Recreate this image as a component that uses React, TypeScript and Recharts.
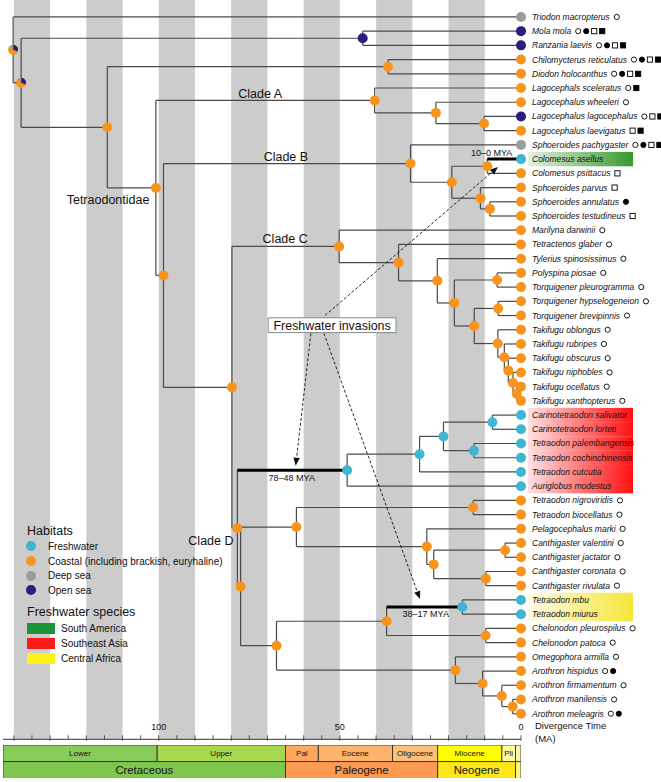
import React from 'react';
import {
  ComposedChart,
  Scatter,
  XAxis,
  YAxis,
  ReferenceArea,
  ReferenceLine,
  ReferenceDot,
  Legend,
  BarChart,
  Bar,
} from 'recharts';

const FONT = '"Liberation Sans", Arial, sans-serif';

// tips, top to bottom
const tipNames = [
  'Triodon macropterus', 'Mola mola', 'Ranzania laevis', 'Chilomycterus reticulatus', 'Diodon holocanthus',
  'Lagocephals sceleratus', 'Lagocephalus wheeleri', 'Lagocephalus lagocephalus', 'Lagocephalus laevigatus',
  'Sphoeroides pachygaster', 'Colomesus asellus', 'Colomesus psittacus', 'Sphoeroides parvus',
  'Sphoeroides annulatus', 'Sphoeroides testudineus', 'Marilyna darwinii', 'Tetractenos glaber',
  'Tylerius spinosissimus', 'Polyspina piosae', 'Torquigener pleurogramma', 'Torquigener hypselogeneion',
  'Torquigener brevipinnis', 'Takifugu oblongus', 'Takifugu rubripes', 'Takifugu obscurus',
  'Takifugu niphobles', 'Takifugu ocellatus', 'Takifugu xanthopterus', 'Carinotetraodon salivator',
  'Carinotetraodon lorteti', 'Tetraodon palembangensis', 'Tetraodon cochinchinensis', 'Tetraodon cutcutia',
  'Auriglobus modestus', 'Tetraodon nigroviridis', 'Tetraodon biocellatus', 'Pelagocephalus marki',
  'Canthigaster valentini', 'Canthigaster jactator', 'Canthigaster coronata', 'Canthigaster rivulata',
  'Tetraodon mbu', 'Tetraodon miurus', 'Chelonodon pleurospilus', 'Chelonodon patoca',
  'Omegophora armilla', 'Arothron hispidus', 'Arothron firmamentum', 'Arothron manilensis', 'Arothron meleagris',
];

// D deep sea, O open sea, C coastal, F freshwater
const tipHabitats = [
  'D', 'O', 'O', 'C', 'C', 'C', 'C', 'O', 'C', 'D',
  'F', 'C', 'C', 'C', 'C', 'C', 'C', 'C', 'C', 'C',
  'C', 'C', 'C', 'C', 'C', 'C', 'C', 'C', 'F', 'F',
  'F', 'F', 'F', 'F', 'C', 'C', 'C', 'C', 'C', 'C',
  'C', 'F', 'F', 'C', 'C', 'C', 'C', 'C', 'C', 'C',
];

// o open circle, c filled circle, s open square, S filled square
const tipMarks = [
  'o', 'ocsS', 'ocsS', 'ocsS', 'ocsS', 'oS', 'o', 'osS', 'sS', 'ocsS',
  '', 's', 's', 'c', 's', 'o', 'o', 'o', 'o', 'o',
  'o', 'o', 'o', 'o', 'o', 'o', 'o', 'o', '', '',
  '', '', '', '', 'o', 'o', 'o', 'o', 'o', 'o',
  'o', '', '', 'o', 'o', 'o', 'oc', 'o', 'o', 'oc',
];

// freshwater regions: tip number -> region
const tipRegions: Record<number, string> = {
  11: 'SA', 29: 'SEA', 30: 'SEA', 31: 'SEA', 32: 'SEA', 33: 'SEA', 34: 'SEA', 42: 'CA', 43: 'CA',
};

// internal nodes: kids are tip numbers or node ids, age in MA
const nodes = [
  { id: 'root', kids: [1, 'n2'], age: 140.2, hab: 'M' },
  { id: 'n2', kids: ['mol', 'n3'], age: 138, hab: 'M' },
  { id: 'mol', kids: [2, 3], age: 43.7, hab: 'O' },
  { id: 'n3', kids: ['dio', 'tet'], age: 114.2, hab: 'C' },
  { id: 'dio', kids: [4, 5], age: 36.7, hab: 'C' },
  { id: 'tet', kids: ['cA', 'n5'], age: 100.8, hab: 'C' },
  { id: 'cA', kids: [6, 'a2'], age: 40.4, hab: 'C' },
  { id: 'a2', kids: [7, 'a3'], age: 23.5, hab: 'C' },
  { id: 'a3', kids: [8, 9], age: 10.2, hab: 'C' },
  { id: 'n5', kids: ['cB', 'n6'], age: 98.7, hab: 'C' },
  { id: 'cB', kids: [10, 'b2'], age: 30.5, hab: 'C' },
  { id: 'b2', kids: ['b3', 'b4'], age: 19.1, hab: 'C' },
  { id: 'b3', kids: [11, 12], age: 9.3, hab: 'C' },
  { id: 'b4', kids: [13, 'b5'], age: 11.2, hab: 'C' },
  { id: 'b5', kids: [14, 15], age: 8.6, hab: 'C' },
  { id: 'n6', kids: ['cC', 'cD'], age: 79.8, hab: 'C' },
  { id: 'cC', kids: [16, 'c2'], age: 50.2, hab: 'C' },
  { id: 'c2', kids: [17, 'c3'], age: 33.8, hab: 'C' },
  { id: 'c3', kids: [18, 'c4'], age: 23.1, hab: 'C' },
  { id: 'c4', kids: ['c5', 'c6'], age: 18.4, hab: 'C' },
  { id: 'c5', kids: [19, 20], age: 6.6, hab: 'C' },
  { id: 'c6', kids: ['c7', 'c8'], age: 12.9, hab: 'C' },
  { id: 'c7', kids: [21, 22], age: 6.3, hab: 'C' },
  { id: 'c8', kids: [23, 't2'], age: 6.4, hab: 'C' },
  { id: 't2', kids: [24, 't3'], age: 4.6, hab: 'C' },
  { id: 't3', kids: [25, 't4'], age: 3.5, hab: 'C' },
  { id: 't4', kids: [26, 't5'], age: 2.2, hab: 'C' },
  { id: 't5', kids: [27, 28], age: 1.2, hab: 'C' },
  { id: 'cD', kids: ['sea', 'e'], age: 78.3, hab: 'C' },
  { id: 'sea', kids: ['s2', 34], age: 48, hab: 'F' },
  { id: 's2', kids: ['s3', 33], age: 28, hab: 'F' },
  { id: 's3', kids: ['s4', 's5'], age: 21.4, hab: 'F' },
  { id: 's4', kids: [29, 30], age: 7.9, hab: 'F' },
  { id: 's5', kids: [31, 32], age: 13, hab: 'F' },
  { id: 'e', kids: ['f', 'g'], age: 77.4, hab: 'C' },
  { id: 'f', kids: ['f1', 'f2'], age: 62, hab: 'C' },
  { id: 'f1', kids: [35, 36], age: 13.2, hab: 'C' },
  { id: 'f2', kids: [37, 'f3'], age: 26, hab: 'C' },
  { id: 'f3', kids: ['f4', 'f5'], age: 24.1, hab: 'C' },
  { id: 'f4', kids: [38, 39], age: 4.4, hab: 'C' },
  { id: 'f5', kids: [40, 41], age: 9.7, hab: 'C' },
  { id: 'g', kids: ['g1', 'g2'], age: 67.5, hab: 'C' },
  { id: 'g1', kids: ['mbu', 'chel'], age: 37.1, hab: 'C' },
  { id: 'mbu', kids: [42, 43], age: 16.2, hab: 'F' },
  { id: 'chel', kids: [44, 45], age: 9.75, hab: 'C' },
  { id: 'g2', kids: [46, 'g3'], age: 18.1, hab: 'C' },
  { id: 'g3', kids: [47, 'g4'], age: 10.6, hab: 'C' },
  { id: 'g4', kids: [48, 'g5'], age: 5.3, hab: 'C' },
  { id: 'g5', kids: [49, 50], age: 2.3, hab: 'C' },
];

// freshwater invasion branches (drawn thick): from node to node/tip
const invasions: [string, string | number][] = [['cD', 'sea'], ['b3', 11], ['g1', 'mbu']];

const bandStarts = [140, 120, 100, 80, 60, 40, 20];
const axisTicks = Array.from({ length: 29 }, (_, i) => i * 5);

// geological time scale, from the present backwards
const epochNames = ['', 'Pli', 'Miocene', 'Oligocene', 'Eocene', 'Pal', 'Upper', 'Lower'];
const epochSpans = [1.5, 3.8, 17.7, 12.5, 20.5, 9, 35.5, 42.5];
const epochColors = ['#fbf6a6', '#ffff9e', '#ffff00', '#fdc07a', '#fdb46c', '#fda75f', '#a8d84e', '#88cb5a'];
const periodNames = ['', 'Neogene', 'Paleogene', 'Cretaceous'];
const periodSpans = [1.5, 21.5, 42, 78];
const periodColors = ['#f9f97f', '#ffe619', '#fd9a52', '#7fc64e'];

const habColors: Record<string, string> = {
  F: '#3db5d3',
  C: '#f7941d',
  D: '#9b9b9b',
  O: '#2e1b7c',
};
const regionGrad: Record<string, [string, string]> = {
  SA: ['#e3f1e1', '#38982f'],
  SEA: ['#ffe2e2', '#ff1111'],
  CA: ['#fffbe6', '#f5e63a'],
};

const nodeById = new Map(nodes.map((n) => [n.id, n]));
const yCache = new Map<string, number>();
function yOf(k: string | number): number {
  if (typeof k === 'number') return k;
  if (yCache.has(k)) return yCache.get(k)!;
  const n = nodeById.get(k)!;
  const y = (yOf(n.kids[0]) + yOf(n.kids[1])) / 2;
  yCache.set(k, y);
  return y;
}
const ageOf = (k: string | number) => (typeof k === 'number' ? 0 : nodeById.get(k)!.age);

const branchSegs = nodes.flatMap((n) => {
  const [a, b] = n.kids;
  return [
    [{ x: n.age, y: yOf(a) }, { x: n.age, y: yOf(b) }],
    [{ x: n.age, y: yOf(a) }, { x: ageOf(a), y: yOf(a) }],
    [{ x: n.age, y: yOf(b) }, { x: ageOf(b), y: yOf(b) }],
  ];
});
const invasionSegs = invasions.map(([from, to]) => [
  { x: nodeById.get(from)!.age, y: yOf(to) },
  { x: ageOf(to), y: yOf(to) },
]);

const nodePoints = nodes.map((n) => ({ x: n.age, y: yOf(n.id), hab: n.hab }));
const tipPoints = tipNames.map((name, i) => ({ x: 0, y: i + 1, hab: tipHabitats[i], name }));

let measureCtx: CanvasRenderingContext2D | null = null;
function textWidth(s: string, font: string) {
  if (!measureCtx) measureCtx = document.createElement('canvas').getContext('2d');
  if (!measureCtx) return s.length * 4.5;
  measureCtx.font = font;
  return measureCtx.measureText(s).width;
}

const NodeDot = (props: any) => {
  const { cx, cy, payload } = props;
  const r = 5;
  if (payload.hab === 'M') {
    const pt = (deg: number) => {
      const a = (deg * Math.PI) / 180;
      return `${cx + r * Math.cos(a)},${cy + r * Math.sin(a)}`;
    };
    return (
      <g>
        <circle cx={cx} cy={cy} r={r} fill={habColors.C} />
        <path d={`M${cx},${cy} L${pt(-90)} A${r},${r} 0 0 1 ${pt(20)} Z`} fill={habColors.O} />
        <path d={`M${cx},${cy} L${pt(-130)} A${r},${r} 0 0 1 ${pt(-90)} Z`} fill={habColors.D} />
      </g>
    );
  }
  return <circle cx={cx} cy={cy} r={r} fill={habColors[payload.hab]} />;
};

const Mark = ({ kind, x, y }: { kind: string; x: number; y: number }) => {
  const filled = kind === 'c' || kind === 'S';
  if (kind === 'o' || kind === 'c') {
    return <circle cx={x} cy={y} r={2.6} fill={filled ? '#000' : '#fff'} stroke="#000" strokeWidth={0.9} />;
  }
  return <rect x={x - 2.6} y={y - 2.6} width={5.2} height={5.2} fill={filled ? '#000' : '#fff'} stroke="#000" strokeWidth={0.9} />;
};

const TipTick = (props: any) => {
  const { x, y, payload } = props;
  const i = Math.round(payload.value);
  const name = tipNames[i - 1];
  if (!name) return null;
  const tx = x + 11;
  const font = `italic 8.5px ${FONT}`;
  const w = textWidth(name, font);
  const region = tipRegions[i];
  const marks = tipMarks[i - 1].split('');
  return (
    <g>
      {region && (
        <>
          <defs>
            <linearGradient id={`grad-${i}`} x1="0" x2="1" y1="0" y2="0">
              <stop offset="0%" stopColor={regionGrad[region][0]} />
              <stop offset="100%" stopColor={regionGrad[region][1]} />
            </linearGradient>
          </defs>
          <rect x={x + 7} y={y - 7.2} width={105} height={14.4} fill={`url(#grad-${i})`} />
        </>
      )}
      <text x={tx} y={y} dy="0.35em" fontSize={8.5} fontStyle="italic" fontFamily={FONT} fill="#111">
        {name}
      </text>
      {marks.map((m, k) => (
        <Mark key={k} kind={m} x={tx + w + 7 + k * 8} y={y} />
      ))}
    </g>
  );
};

const AxisTick = (props: any) => {
  const { x, y, payload } = props;
  const v = payload.value;
  const major = v % 10 === 0;
  return (
    <g>
      <line x1={x} x2={x} y1={y - 4} y2={y + (major ? 1.5 : 0)} stroke="#333" strokeWidth={0.8} />
      {v % 50 === 0 && (
        <text x={x} y={y - 9} textAnchor="middle" fontSize={9} fontFamily={FONT} fill="#111">
          {v}
        </text>
      )}
    </g>
  );
};

const ArrowLine = (props: any) => {
  const { x1, y1, x2, y2 } = props;
  if ([x1, y1, x2, y2].some((v) => typeof v !== 'number')) return null;
  const ang = Math.atan2(y2 - y1, x2 - x1);
  const L = 8;
  const W2 = 3.2;
  const bx = x2 - L * Math.cos(ang);
  const by = y2 - L * Math.sin(ang);
  const px = -Math.sin(ang) * W2;
  const py = Math.cos(ang) * W2;
  return (
    <g>
      <line x1={x1} y1={y1} x2={bx} y2={by} stroke="#111" strokeWidth={0.9} strokeDasharray="3 2" />
      <polygon points={`${x2},${y2} ${bx + px},${by + py} ${bx - px},${by - py}`} fill="#111" />
    </g>
  );
};

const habitatItems = [
  ['F', 'Freshwater'],
  ['C', 'Coastal (including brackish, euryhaline)'],
  ['D', 'Deep sea'],
  ['O', 'Open sea'],
];
const regionItems = [
  ['#1e9438', 'South America'],
  ['#ff1a1a', 'Southeast Asia'],
  ['#fff21a', 'Central Africa'],
];

const LegendBox = () => (
  <div style={{ fontFamily: FONT, color: '#111', width: 210 }}>
    <div style={{ fontSize: 12.5, height: 16, lineHeight: '16px' }}>Habitats</div>
    {habitatItems.map(([k, label]) => (
      <div key={k} style={{ display: 'flex', alignItems: 'center', height: 14.7, fontSize: 10 }}>
        <span
          style={{
            display: 'inline-block', width: 10, height: 10, borderRadius: 5,
            background: habColors[k], marginLeft: -1, marginRight: 12,
          }}
        />
        {label}
      </div>
    ))}
    <div style={{ fontSize: 12.5, height: 16, lineHeight: '16px', marginTop: 6 }}>Freshwater species</div>
    <div style={{ marginTop: 1.3 }}>
      {regionItems.map(([c, label]) => (
        <div key={label} style={{ display: 'flex', alignItems: 'center', height: 15, fontSize: 10 }}>
          <span style={{ display: 'inline-block', width: 28, height: 11, background: c, marginRight: 6 }} />
          {label}
        </div>
      ))}
    </div>
  </div>
);

const note = (key: string, x: number, y: number, text: string, size: number) => (
  <ReferenceDot
    key={key}
    x={x}
    y={y}
    r={0}
    fill="none"
    stroke="none"
    ifOverflow="visible"
    label={{ value: text, position: 'center', fontSize: size, fill: '#111', fontFamily: FONT }}
  />
);

const scaleRows = [
  { row: 'epoch', ...Object.fromEntries(epochSpans.map((v, i) => [`e${i}`, v])), ...Object.fromEntries(periodSpans.map((_, i) => [`p${i}`, 0])) },
  { row: 'period', ...Object.fromEntries(epochSpans.map((_, i) => [`e${i}`, 0])), ...Object.fromEntries(periodSpans.map((v, i) => [`p${i}`, v])) },
];

const unitShape = (name: string, fill: string, size: number) => (p: any) => {
  const { x, y, width, height } = p;
  if (!width || Math.abs(width) < 0.05) return null;
  const left = Math.min(x, x + width);
  const w = Math.abs(width);
  return (
    <g>
      <rect x={left} y={y} width={w} height={height} fill={fill} stroke="#222" strokeWidth={0.8} />
      {name && (
        <text x={left + w / 2} y={y + height / 2} dy="0.35em" textAnchor="middle" fontSize={size} fontFamily={FONT} fill="#111">
          {name}
        </text>
      )}
    </g>
  );
};

export default function App() {
  return (
    <div style={{ position: 'absolute', left: 0, top: 0, width: 661, height: 782, background: '#fff' }}>
      <ComposedChart
        width={661}
        height={782}
        margin={{ top: 0, right: 0, left: 3, bottom: 42.7 }}
        style={{ fontFamily: FONT }}
      >
        <XAxis
          type="number"
          dataKey="x"
          domain={[0, 143]}
          reversed
          ticks={axisTicks}
          interval={0}
          mirror
          height={1}
          tickSize={0}
          tickMargin={0}
          tick={AxisTick}
          stroke="#333"
          label={{
            content: (lp: any) => {
              const vb = lp.viewBox || { x: 3, y: 738, width: 518 };
              return (
                <text x={vb.x + vb.width + 14} y={vb.y - 9} fontSize={9.5} fontFamily={FONT} fill="#111">
                  <tspan x={vb.x + vb.width + 14}>Divergence Time</tspan>
                  <tspan x={vb.x + vb.width + 14} dy={12.5}>(MA)</tspan>
                </text>
              );
            },
          }}
        />
        <YAxis
          type="number"
          dataKey="y"
          orientation="right"
          domain={[-0.19, 51.8]}
          reversed
          width={140}
          ticks={tipPoints.map((t) => t.y)}
          interval={0}
          axisLine={false}
          tickLine={false}
          tickSize={0}
          tickMargin={0}
          tick={TipTick}
        />
        {bandStarts.map((s) => (
          <ReferenceArea key={`band-${s}`} x1={s} x2={s - 10} fill="#cccccc" fillOpacity={1} stroke="none" />
        ))}
        {branchSegs.map((seg, i) => (
          <ReferenceLine key={`br-${i}`} segment={seg} stroke="#4a4a4a" strokeWidth={1.2} />
        ))}
        {invasionSegs.map((seg, i) => (
          <ReferenceLine key={`inv-${i}`} segment={seg} stroke="#000" strokeWidth={3} />
        ))}
        <ReferenceLine segment={[{ x: 54.1, y: 21.99 }, { x: 6.35, y: 11.55 }]} shape={ArrowLine} />
        <ReferenceLine segment={[{ x: 58, y: 23.26 }, { x: 62.2, y: 32.56 }]} shape={ArrowLine} />
        <ReferenceLine segment={[{ x: 54.4, y: 23.26 }, { x: 27.9, y: 41.94 }]} shape={ArrowLine} />
        <ReferenceArea
          x1={69.8}
          x2={34.5}
          y1={22.16}
          y2={23.2}
          fill="#fff"
          fillOpacity={1}
          stroke="#888"
          strokeWidth={1}
          label={{ value: 'Freshwater invasions', position: 'center', fontSize: 12.4, fill: '#111', fontFamily: FONT }}
        />
        {note('cA', 72, 6.36, 'Clade A', 12.5)}
        {note('cB', 64.9, 10.8, 'Clade B', 12.5)}
        {note('cC', 65.1, 16.57, 'Clade C', 12.5)}
        {note('cD', 85.6, 37.84, 'Clade D', 12.5)}
        {note('tet', 114, 13.82, 'Tetraodontidae', 12.5)}
        {note('m1', 8.1, 10.58, '10–0 MYA', 9)}
        {note('m2', 63.3, 33.4, '78–48 MYA', 9)}
        {note('m3', 26.3, 43.0, '38–17 MYA', 9)}
        <Scatter data={nodePoints} shape={NodeDot} isAnimationActive={false} />
        <Scatter data={tipPoints} shape={NodeDot} isAnimationActive={false} />
        <Legend
          layout="vertical"
          align="center"
          verticalAlign="middle"
          wrapperStyle={{ position: 'absolute', left: 27, top: 523, width: 210 }}
          content={LegendBox}
        />
      </ComposedChart>
      <div style={{ position: 'absolute', left: 0, top: 745 }}>
        <BarChart
          width={661}
          height={33.3}
          layout="vertical"
          data={scaleRows}
          barCategoryGap={0}
          margin={{ top: 0, right: 140, left: 3, bottom: 0 }}
        >
          <XAxis type="number" domain={[0, 143]} reversed hide allowDataOverflow />
          <YAxis type="category" dataKey="row" hide />
          {epochSpans.map((_, i) => (
            <Bar
              key={`e${i}`}
              dataKey={`e${i}`}
              stackId="t"
              isAnimationActive={false}
              shape={unitShape(epochNames[i], epochColors[i], 8)}
            />
          ))}
          {periodSpans.map((_, i) => (
            <Bar
              key={`p${i}`}
              dataKey={`p${i}`}
              stackId="t"
              isAnimationActive={false}
              shape={unitShape(periodNames[i], periodColors[i], 11.3)}
            />
          ))}
        </BarChart>
      </div>
    </div>
  );
}
